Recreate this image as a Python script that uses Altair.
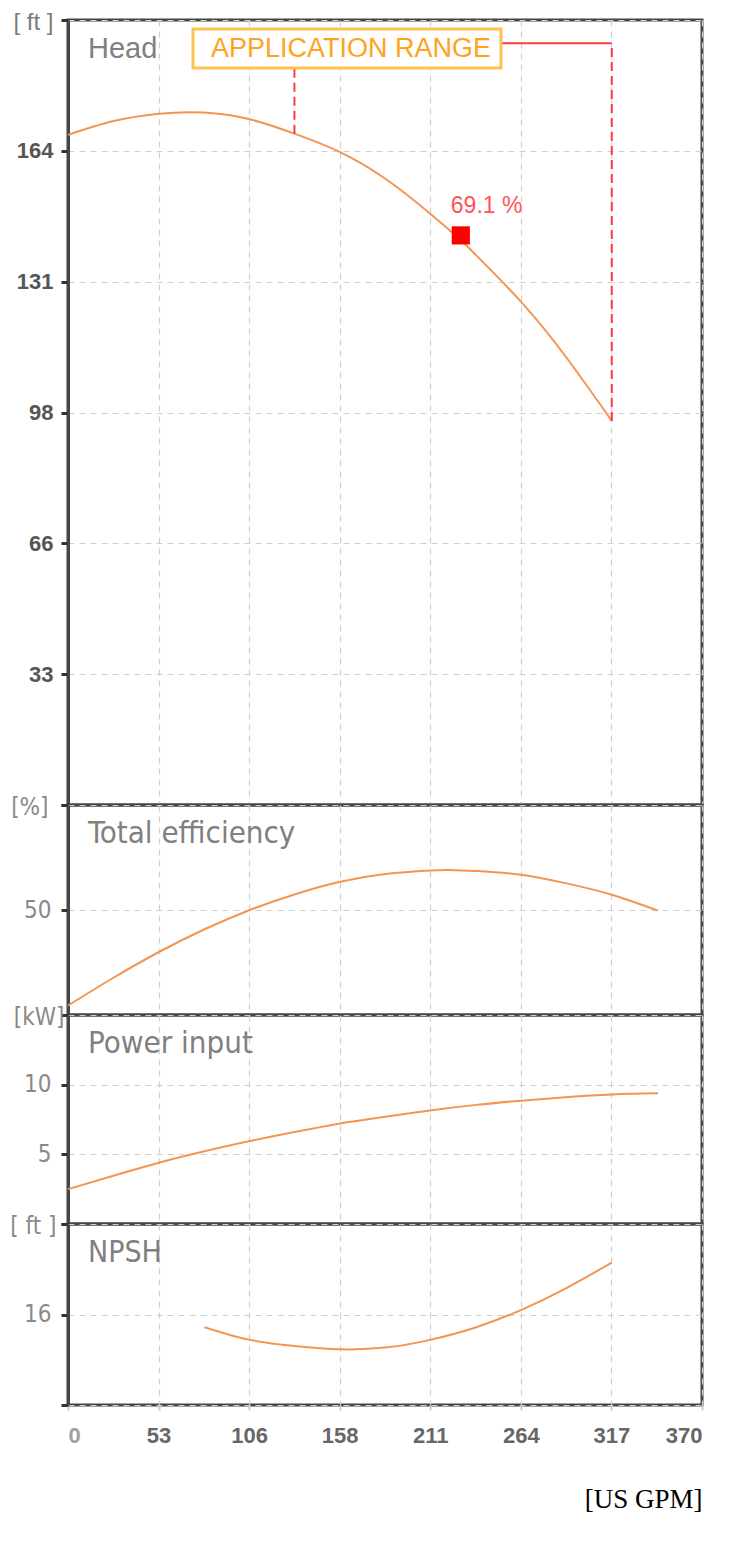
import altair as alt
import pandas as pd

# ---------------- data ----------------
x_ticks = [0, 52.8, 105.6, 158.4, 211.2, 264.0, 316.8, 369.6]

head_q = [0, 26, 53, 79, 106, 132, 158, 185, 211, 229, 238, 264, 290, 317]
head_h = [168.0, 171.4, 173.3, 173.6, 171.9, 168.3, 163.8, 157.0, 148.3, 141.6, 137.8, 126.2, 112.5, 96.3]
head_ticks = [0, 32.8, 65.6, 98.4, 131.2, 164.0, 196.8]

eff_q = [0, 26, 53, 79, 106, 132, 158, 185, 211, 222, 238, 264, 290, 317, 344]
eff_v = [4.5, 17.5, 30.0, 40.6, 50.0, 57.4, 63.3, 67.1, 68.8, 69.1, 68.6, 66.8, 62.8, 57.3, 49.7]
eff_ticks = [0, 50, 100]

pow_q = [0, 26, 53, 79, 106, 132, 158, 185, 211, 238, 264, 290, 317, 344]
pow_v = [2.5, 3.45, 4.4, 5.2, 5.95, 6.6, 7.2, 7.7, 8.15, 8.55, 8.85, 9.1, 9.3, 9.38]
pow_ticks = [0, 5, 10, 15]

npsh_q = [79.5, 106, 132, 158, 185, 211, 238, 264, 290, 317]
npsh_v = [14.1, 11.8, 10.7, 10.1, 10.4, 11.8, 14.1, 17.2, 21.1, 25.8]
npsh_ticks = [0, 16.4, 32.8]

range_q = [132, 317]          # application range limits
range_h = [168.3, 96.3]       # head at the limits
range_top = 191.0

bep_q = [229]
bep_h = [142.8]
bep_label = ["69.1 %"]

panel_titles = ["Head", "Total efficiency", "Power input", "NPSH"]

# ---------------- style ----------------
ORANGE = "#f39552"
RED = "#ff3b3b"
GRID = "#cfcfcf"
FRAME = "#454545"
W = 634
NARROW = "Liberation Sans Narrow, DejaVu Sans Condensed, Roboto"
ARIAL = "Liberation Sans, Arial, sans-serif"

x_scale = alt.Scale(domain=[0, 369.6], nice=False, zero=False)
x_hidden = alt.Axis(values=x_ticks, labels=False, ticks=False, domain=False, title=None,
                    grid=True, gridColor=GRID, gridDash=[6, 5], gridWidth=1.2)


def y_axis(values, top, unit, unit_pad):
    expr = (f"datum.value >= {top} ? '{unit}' : (datum.value == 0 ? '' : format(datum.value, '.0f'))")
    test = f"datum.value >= {top}"
    return alt.Axis(values=values, labelExpr=expr, title=None, grid=True, gridColor=GRID,
                    gridDash=[6, 5], gridWidth=1.2, domain=True, domainColor=FRAME, domainWidth=3,
                    tickColor="#333333", tickWidth=3, tickSize=7,
                    labelPadding=alt.condition(test, alt.value(unit_pad), alt.value(10)),
                    labelOffset=alt.condition(test, alt.value(2), alt.value(0)),
                    labelFont=NARROW, labelFontSize=24, labelColor="#8a8a8a",
                    labelBaseline="middle", minExtent=55, maxExtent=55)


def title_text(i, font, size):
    return alt.Chart(pd.DataFrame({"t": [panel_titles[i]]})).mark_text(
        align="left", baseline="middle", font=font, fontSize=size, color="#808080"
    ).encode(x=alt.value(20), y=alt.value(29), text="t:N")


# ---- Head panel ----
head_df = pd.DataFrame({"q": head_q, "h": head_h})
hy = alt.Scale(domain=[0, 196.8], nice=False)
htest = "datum.value >= 196"
head_axis = alt.Axis(values=head_ticks, title=None, grid=True, gridColor=GRID,
                     gridDash=[6, 5], gridWidth=1.2, domainColor=FRAME, domainWidth=3,
                     tickColor="#333333", tickWidth=3, tickSize=7, labelPadding=8,
                     labelOffset=alt.condition(htest, alt.value(2), alt.value(0)),
                     labelExpr="datum.value >= 196 ? '[ ft ]' : (datum.value == 0 ? '' : format(datum.value, '.0f'))",
                     labelFont=ARIAL, labelFontSize=alt.condition(htest, alt.value(24), alt.value(22)),
                     labelFontWeight=alt.condition(htest, alt.value("normal"), alt.value("bold")),
                     labelColor=alt.condition(htest, alt.value("#7a7a7a"), alt.value("#555555")),
                     minExtent=55, maxExtent=55)

head_line = alt.Chart(head_df).mark_line(color=ORANGE, strokeWidth=2, interpolate="natural").encode(
    x=alt.X("q:Q", scale=x_scale, axis=x_hidden),
    y=alt.Y("h:Q", scale=hy, axis=head_axis),
)

vr_df = pd.DataFrame({"q": range_q, "h0": range_h, "h1": [range_top, range_top]})
v_rules = alt.Chart(vr_df).mark_rule(color=RED, strokeWidth=2, strokeDash=[9, 5]).encode(
    x="q:Q", y="h0:Q", y2="h1:Q")
h_rule = alt.Chart(pd.DataFrame({"a": [range_q[0]], "b": [range_q[1]], "h": [range_top]})).mark_rule(
    color=RED, strokeWidth=2).encode(x="a:Q", x2="b:Q", y="h:Q")
box = alt.Chart(pd.DataFrame({"t": ["APPLICATION RANGE"]})).mark_rect(
    fill="white", stroke="#ffc250", strokeWidth=3).encode(
    x=alt.value(125), x2=alt.value(433), y=alt.value(9), y2=alt.value(48))
box_text = alt.Chart(pd.DataFrame({"t": ["APPLICATION RANGE"]})).mark_text(
    font=ARIAL, fontSize=27, color="#ffa21c", align="center", baseline="middle").encode(
    x=alt.value(283), y=alt.value(29), text="t:N")

bep_df = pd.DataFrame({"q": bep_q, "h": bep_h, "l": bep_label})
bep_pt = alt.Chart(bep_df).mark_square(size=330, color="#ff0000", opacity=1).encode(x="q:Q", y="h:Q")
bep_tx = alt.Chart(bep_df).mark_text(font=ARIAL, fontSize=23, color="#ff5555", align="left",
                                      baseline="middle", dx=-10, dy=-29).encode(x="q:Q", y="h:Q", text="l:N")

head = alt.layer(head_line, v_rules, h_rule, box, box_text, bep_pt, bep_tx,
                 title_text(0, ARIAL, 29)).properties(width=W, height=785)

# ---- Efficiency ----
eff_df = pd.DataFrame({"q": eff_q, "v": eff_v})
eff = alt.layer(
    alt.Chart(eff_df).mark_line(color=ORANGE, strokeWidth=2, interpolate="natural").encode(
        x=alt.X("q:Q", scale=x_scale, axis=x_hidden),
        y=alt.Y("v:Q", scale=alt.Scale(domain=[0, 100], nice=False), axis=y_axis(eff_ticks, 100, "[%]", 13))),
    title_text(1, NARROW, 31),
).properties(width=W, height=210)

# ---- Power ----
pow_df = pd.DataFrame({"q": pow_q, "v": pow_v})
pw = alt.layer(
    alt.Chart(pow_df).mark_line(color=ORANGE, strokeWidth=2, interpolate="natural").encode(
        x=alt.X("q:Q", scale=x_scale, axis=x_hidden),
        y=alt.Y("v:Q", scale=alt.Scale(domain=[0, 15], nice=False), axis=y_axis(pow_ticks, 15, "[kW]", -3))),
    title_text(2, NARROW, 31),
).properties(width=W, height=209)

# ---- NPSH ----
npsh_df = pd.DataFrame({"q": npsh_q, "v": npsh_v})
x_bottom = alt.Axis(values=x_ticks, format=".0f", title="[US GPM]", grid=True, gridColor=GRID,
                    gridDash=[6, 5], gridWidth=1.2, domain=False, ticks=True, tickColor="#cccccc",
                    tickSize=5, tickWidth=2, labelPadding=15, labelFont=ARIAL, labelFontSize=22,
                    labelFontWeight="bold",
                    labelColor=alt.condition("datum.value == 0", alt.value("#a0a0a0"), alt.value("#666666")),
                    titleFont="Liberation Serif", titleFontSize=27, titleFontWeight="normal",
                    titleColor="#000000", titleAnchor="end", titlePadding=40)
npsh = alt.layer(
    alt.Chart(npsh_df).mark_line(color=ORANGE, strokeWidth=2, interpolate="natural").encode(
        x=alt.X("q:Q", scale=x_scale, axis=x_bottom),
        y=alt.Y("v:Q", scale=alt.Scale(domain=[0, 32.8], nice=False), axis=y_axis(npsh_ticks, 32.8, "[ ft ]", 5))),
    title_text(3, NARROW, 30),
).properties(width=W, height=181)

chart = alt.vconcat(head, eff, pw, npsh, spacing=0, bounds="flush").configure_view(
    stroke=FRAME, strokeWidth=3
).properties(background="white", padding={"top": 0, "left": 0, "right": 5, "bottom": 5})

chart.save("out.html", embed_options={"renderer": "svg", "actions": False})
